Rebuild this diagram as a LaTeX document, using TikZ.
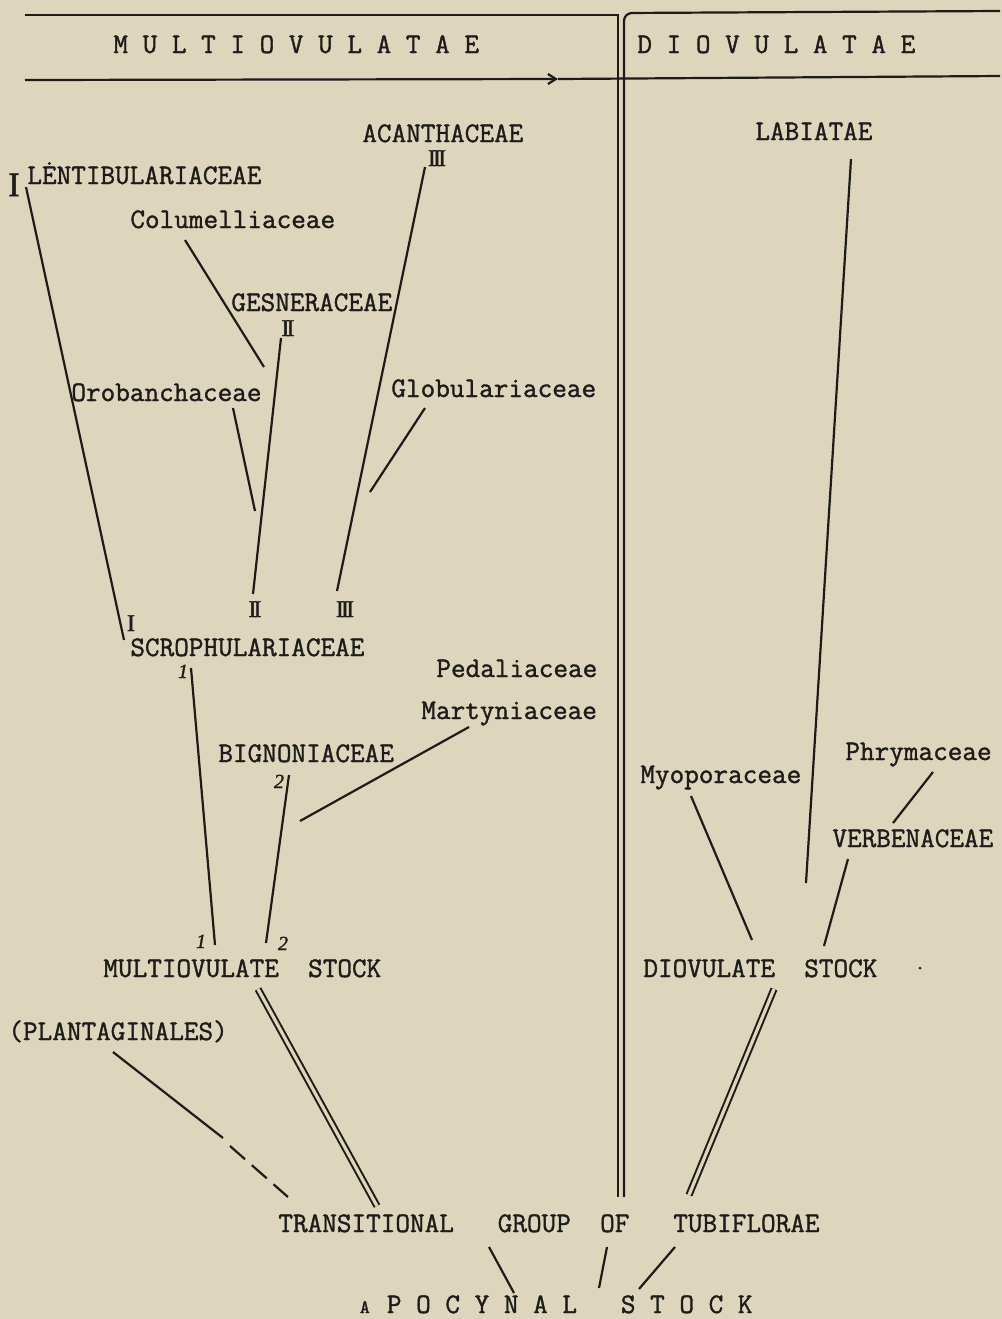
\documentclass[tikz,border=0pt]{standalone}
\usepackage{fontspec}
\setmonofont{Latin Modern Mono}[FakeBold=1.3]
\newfontfamily\romfont{Liberation Serif}[FakeBold=1.5]
\usepackage{tikz}
\usetikzlibrary{arrows.meta}

\definecolor{paper}{RGB}{221,213,188}
\definecolor{ink}{RGB}{30,28,26}

\newcommand{\twoI}{I\kern-0.12em I}
\newcommand{\threeI}{I\kern-0.12em I\kern-0.12em I}

\begin{document}
\begin{tikzpicture}[x=0.5pt, y=-0.5pt,
    every node/.style={inner sep=0pt, text=ink},
    taxon/.style={anchor=base west, font=\fontsize{14.2}{16}\ttfamily},
    numeral/.style={anchor=base, font=\fontsize{12}{13}\romfont},
    digit/.style={anchor=base, font=\fontsize{10}{12}\romfont\itshape},
    stem/.style={draw=ink, line width=1.1pt},
    twin/.style={draw=ink, line width=1pt, double=paper, double distance=1.6pt}]

\fill[paper] (0,0) rectangle (1002,1319);

% headings
\node (multhdr) [taxon] at (113,53) {M U L T I O V U L A T A E};
\node (diovhdr) [taxon] at (637,53) {D I O V U L A T A E};

% families
\node (acan)   [taxon] at (362,142) {ACANTHACEAE};
\node (labi)   [taxon] at (755,140) {LABIATAE};
\node (lent)   [taxon] at (27,184)  {LĖNTIBULARIACEAE};
\node (colu)   [taxon] at (130,228) {Columelliaceae};
\node (gesn)   [taxon] at (231,311) {GESNERACEAE};
\node (orob)   [taxon] at (71,401)  {Orobanchaceae};
\node (glob)   [taxon] at (391,397) {Globulariaceae};
\node (scro)   [taxon] at (130,656) {SCROPHULARIACEAE};
\node (peda)   [taxon] at (436,677) {Pedaliaceae};
\node (mart)   [taxon] at (421,719) {Martyniaceae};
\node (bign)   [taxon] at (218,762) {BIGNONIACEAE};
\node (myop)   [taxon] at (640,783) {Myoporaceae};
\node (phry)   [taxon] at (845,760) {Phrymaceae};
\node (verb)   [taxon] at (832,847) {VERBENACEAE};
\node (mstock) [taxon] at (103,977) {MULTIOVULATE~~STOCK};
\node (dstock) [taxon] at (643,977) {DIOVULATE~~STOCK};
\node (plan)   [taxon] at (8,1040)  {(PLANTAGINALES)};
\node (trans)  [taxon] at (278,1232) {TRANSITIONAL~~~GROUP~~OF~~~TUBIFLORAE};
\node (apoc)   [taxon] at (357,1313)
      {\makebox[0.525em][c]{\fontsize{9.5}{10}\selectfont A} P O C Y N A L~~~S T O C K};

% roman numerals and figures
\node (romlent) [numeral, font=\fontsize{17}{18}\romfont] at (14,196) {I};
\node (romacan) [numeral] at (437,166) {\threeI};
\node (romgesn) [numeral] at (288,336) {\twoI};
\node (romscro) [numeral] at (131,631) {I};
\node (romii)   [numeral] at (255,617) {\twoI};
\node (romiii)  [numeral] at (345,617) {\threeI};
\node (onescro)  [digit] at (183,678) {1};
\node (twobign)  [digit] at (279,788) {2};
\node (onestock) [digit] at (201,948) {1};
\node (twostock) [digit] at (283,950) {2};

% line ends
\coordinate (rulenw) at (25,15);
\coordinate (rulene) at (1000,11);
\coordinate (rulesw) at (25,80);
\coordinate (rulemid) at (558,79);
\coordinate (rulese) at (1000,76);
\coordinate (divlt) at (618,15);
\coordinate (divlb) at (618,1197);
\coordinate (divrt) at (624,13);
\coordinate (divrb) at (624,1197);

\coordinate (lent-t) at (26,187);   \coordinate (lent-b) at (124,640);
\coordinate (colu-t) at (185,240);  \coordinate (colu-b) at (264,367);
\coordinate (gesn-t) at (281,338);  \coordinate (gesn-b) at (253,594);
\coordinate (orob-t) at (233,408);  \coordinate (orob-b) at (255,511);
\coordinate (acan-t) at (425,167);  \coordinate (acan-b) at (337,591);
\coordinate (glob-t) at (425,408);  \coordinate (glob-b) at (370,492);
\coordinate (labi-t) at (851,159);  \coordinate (labi-b) at (806,883);
\coordinate (scro-t) at (191,668);  \coordinate (scro-b) at (215,945);
\coordinate (bign-t) at (289,775);  \coordinate (bign-b) at (266,943);
\coordinate (mart-t) at (469,727);  \coordinate (mart-b) at (300,821);
\coordinate (myop-t) at (691,796);  \coordinate (myop-b) at (752,940);
\coordinate (phry-t) at (933,772);  \coordinate (phry-b) at (893,823);
\coordinate (verb-t) at (848,859);  \coordinate (verb-b) at (824,946);
\coordinate (plan-t) at (113,1052); \coordinate (plan-m) at (223,1138);
\coordinate (plan-d) at (230,1146); \coordinate (plan-b) at (288,1197);
\coordinate (grp-t) at (489,1247);  \coordinate (grp-b) at (514,1293);
\coordinate (of-t) at (607,1247);   \coordinate (of-b) at (599,1288);
\coordinate (tub-t) at (675,1247);  \coordinate (tub-b) at (639,1289);
\coordinate (mst-t) at (258,989);   \coordinate (mst-b) at (377,1206);
\coordinate (dst-t) at (774,989);   \coordinate (dst-b) at (689,1195);

% header rules and divider
\draw [stem] (rulenw) -- (divlt) -- (divlb);
\draw [stem, rounded corners=4pt] (divrb) -- (divrt) -- (rulene);
\draw [stem, -{Straight Barb[length=4pt,width=5pt]}] (rulesw) -- (rulemid);
\draw [stem] (rulemid) -- (rulese);

% branches
\foreach \a/\b in {lent-t/lent-b, colu-t/colu-b, gesn-t/gesn-b, orob-t/orob-b,
                   acan-t/acan-b, glob-t/glob-b, labi-t/labi-b, scro-t/scro-b,
                   bign-t/bign-b, mart-t/mart-b, myop-t/myop-b, phry-t/phry-b,
                   verb-t/verb-b, plan-t/plan-m, grp-t/grp-b, of-t/of-b, tub-t/tub-b}
    \draw [stem] (\a) -- (\b);
\draw [stem, dash pattern=on 10pt off 4.5pt] (plan-d) -- (plan-b);
\draw [twin] (mst-t) -- (mst-b);
\draw [twin] (dst-t) -- (dst-b);

\fill [ink] (920,968) circle (1.5);
\end{tikzpicture}
\end{document}
